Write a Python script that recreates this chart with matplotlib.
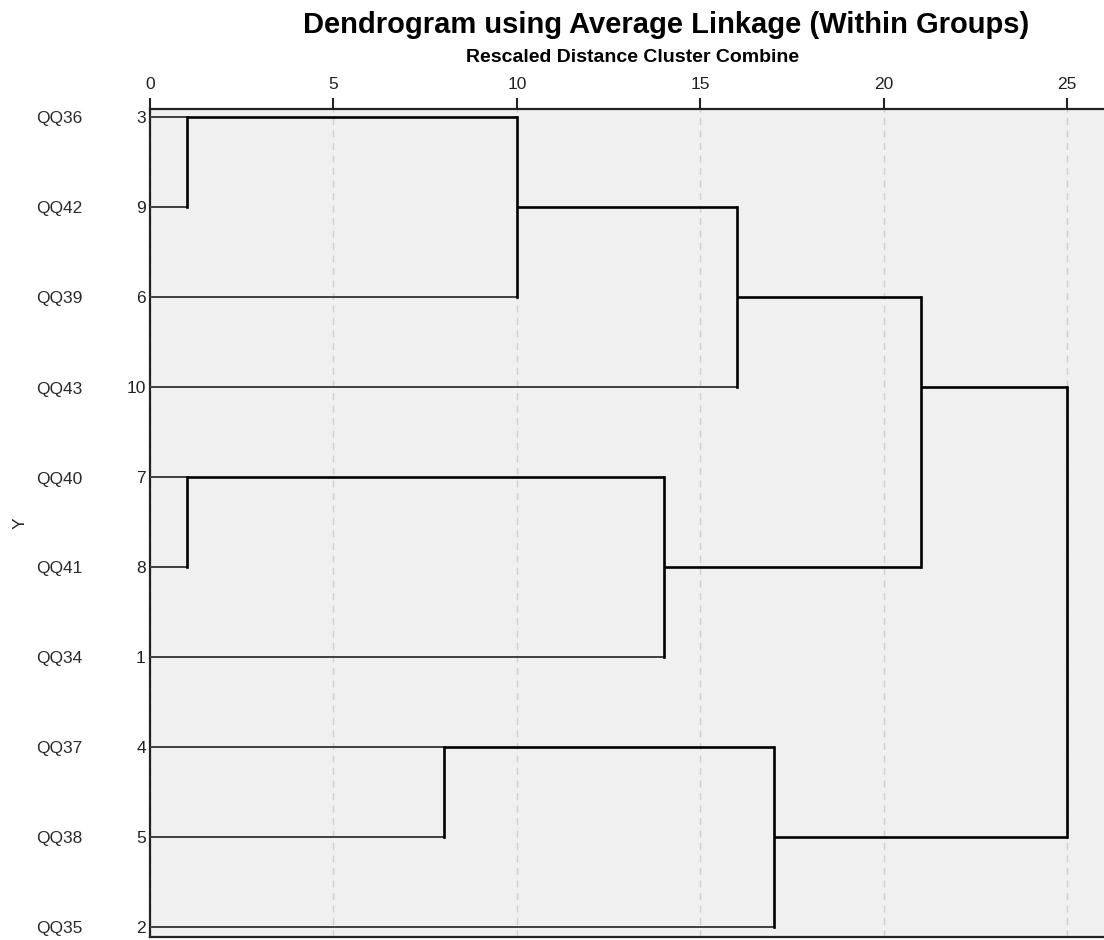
import matplotlib
matplotlib.use("Agg")
import matplotlib.pyplot as plt

plt.rcParams['font.family'] = ['Liberation Sans', 'DejaVu Sans']

# leaves from top to bottom
leaf_names = ["QQ36", "QQ42", "QQ39", "QQ43", "QQ40", "QQ41", "QQ34", "QQ37", "QQ38", "QQ35"]
case_ids = [3, 9, 6, 10, 7, 8, 1, 4, 5, 2]

# merges: (node a, node b, rescaled distance); node n+i is the cluster made by merge i
merge_a = [0, 10, 11, 4, 13, 12, 7, 16, 15]
merge_b = [1, 2, 3, 5, 6, 14, 8, 9, 17]
merge_dist = [1, 10, 16, 1, 14, 21, 8, 17, 25]

x_ticks = [0, 5, 10, 15, 20, 25]

W, H = 1104, 940
fig = plt.figure(figsize=(W / 100, H / 100), dpi=100)
ax = fig.add_axes([150 / W, 3 / H, (W - 150) / W, 828 / H])
ax.set_facecolor('#f0f0f0')

n = len(leaf_names)
ypos = {i: i for i in range(n)}
xpos = {i: 0 for i in range(n)}
is_leaf = {i: True for i in range(n)}

for k, (a, b, d) in enumerate(zip(merge_a, merge_b, merge_dist)):
    for node in (a, b):
        col = '#404040' if is_leaf[node] else 'black'
        lw = 1.4 if is_leaf[node] else 1.9
        ax.plot([xpos[node], d], [ypos[node], ypos[node]], color=col, lw=lw,
                solid_capstyle='butt', zorder=3)
    ax.plot([d, d], [ypos[a], ypos[b]], color='black', lw=1.9,
            solid_capstyle='projecting', zorder=3)
    new = n + k
    ypos[new] = (ypos[a] + ypos[b]) // 2
    xpos[new] = d
    is_leaf[new] = False

ax.set_xlim(0, 26)
ax.set_ylim(n - 1 + 10 / 90, -8 / 90)

ax.xaxis.tick_top()
ax.set_xticks(x_ticks)
ax.tick_params(axis='x', length=8, width=1.5, color='#222222', labelsize=12.5,
               labelcolor='#222222', pad=4)
ax.grid(axis='x', color='#cfcfcf', linestyle=(0, (5, 4)), lw=1)
ax.set_axisbelow(True)

ax.set_yticks(range(n))
ax.set_yticklabels([str(c) for c in case_ids])
ax.tick_params(axis='y', length=0, labelsize=12.5, labelcolor='#222222', pad=3)

for sp in ['top', 'left', 'bottom']:
    ax.spines[sp].set_linewidth(1.6)
    ax.spines[sp].set_color('#222222')
ax.spines['right'].set_visible(False)

for i, name in enumerate(leaf_names):
    ax.text(36 / W, 1 - (119 + 90 * i) / H, name, transform=fig.transFigure,
            ha='left', va='center', fontsize=12.5, color='#2a2a2a')

fig.text(20 / W, 1 - 523 / H, "Y", rotation=90, ha='center', va='center',
         fontsize=12.5, color='#222222')

fig.text(666 / W, 1 - 25 / H, "Dendrogram using Average Linkage (Within Groups)",
         ha='center', va='center', fontsize=21, fontweight='bold')
fig.text(633 / W, 1 - 58 / H, "Rescaled Distance Cluster Combine",
         ha='center', va='center', fontsize=14, fontweight='bold')

fig.savefig("out.png", dpi=100)
